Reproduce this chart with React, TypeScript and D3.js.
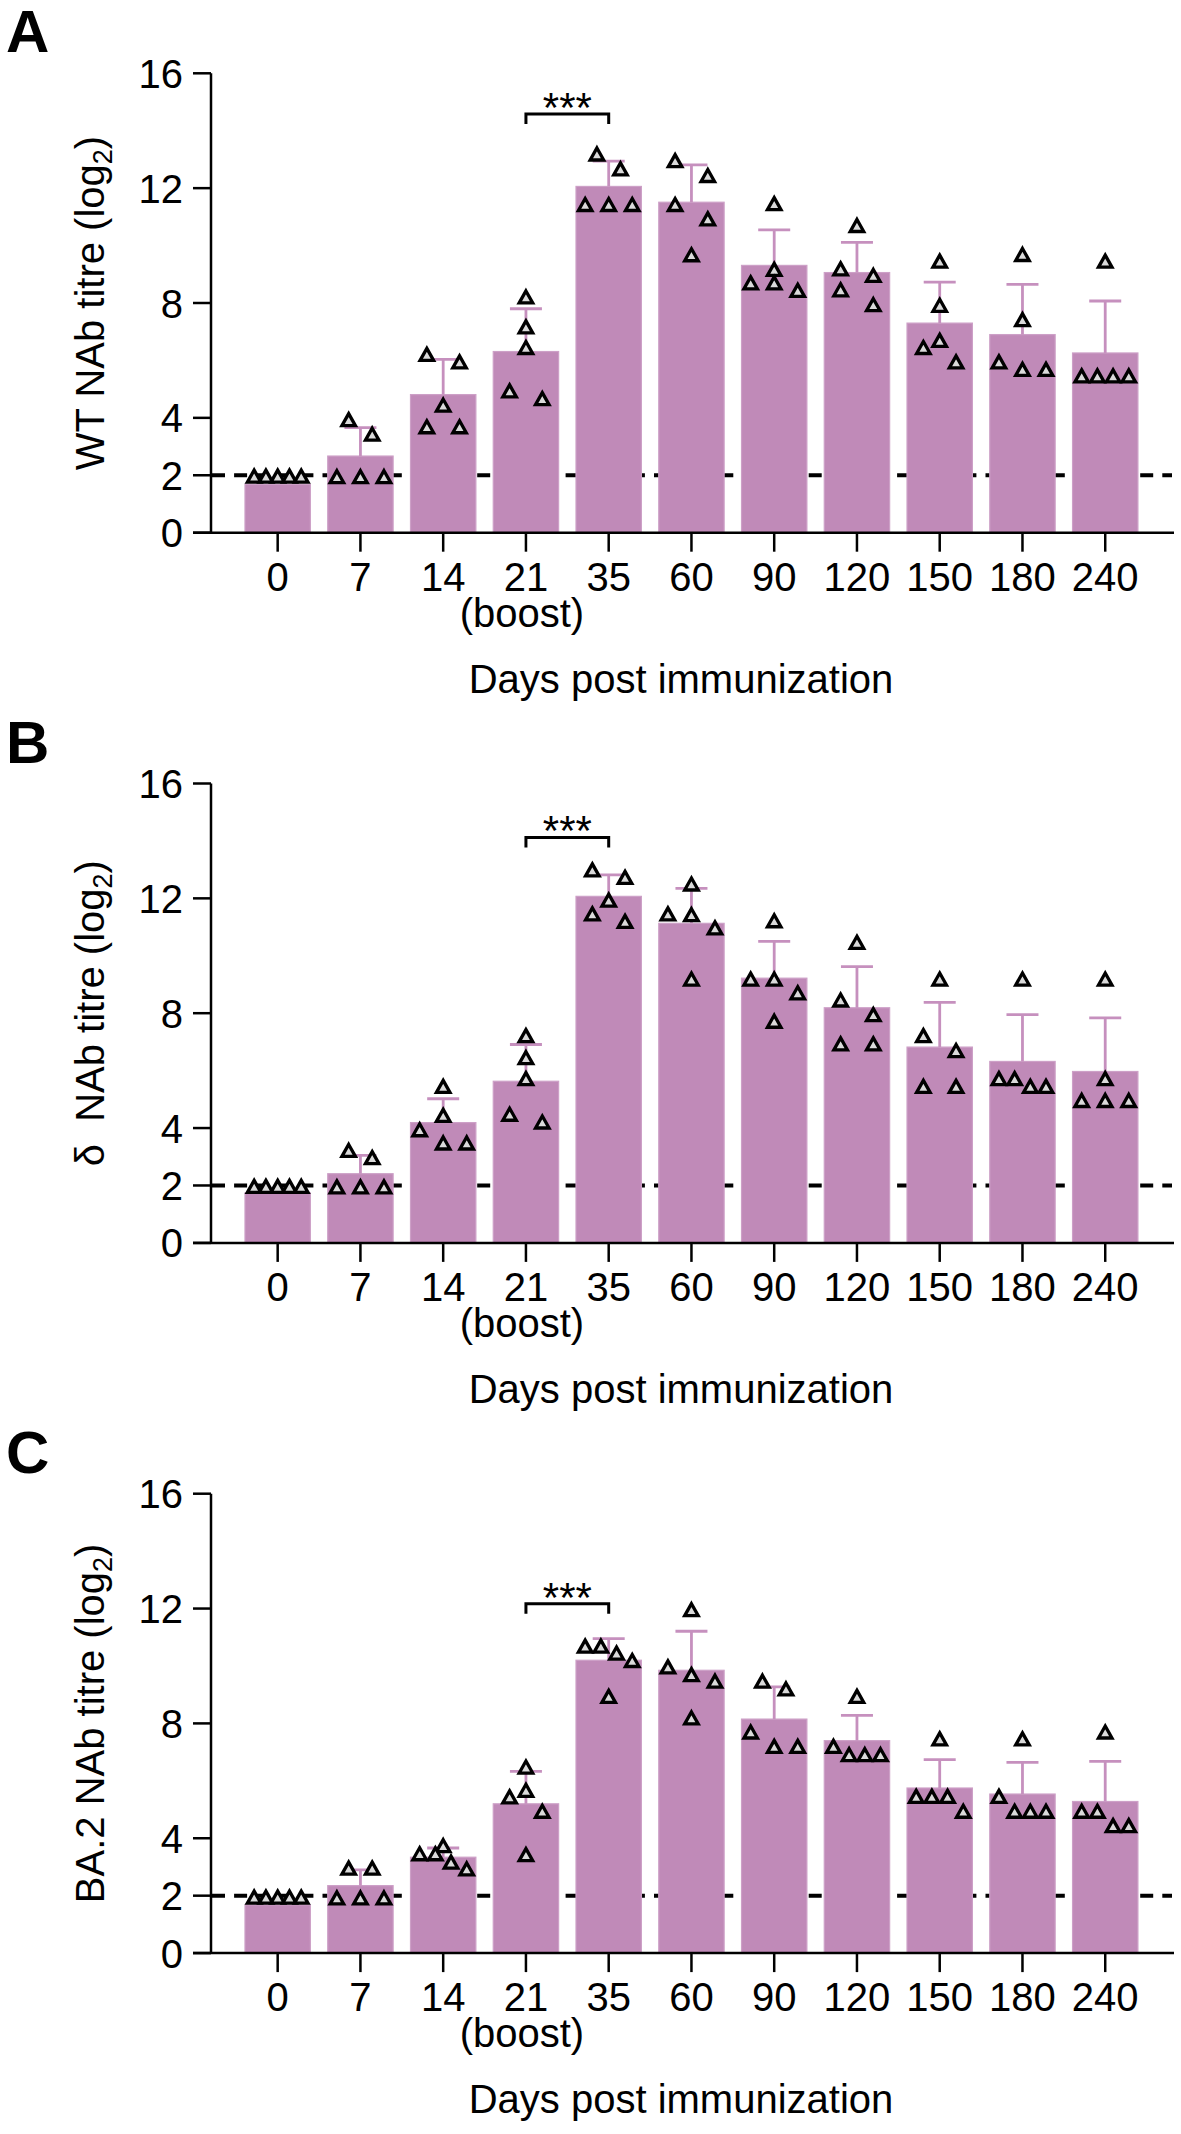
import React from "react";
import * as d3 from "d3";

// ---------- data ----------
const days = ["0", "7", "14", "21", "35", "60", "90", "120", "150", "180", "240"];
const boostDay = "21";
const yTickValues = [0, 2, 4, 8, 12, 16];
const detectionLimit = 2;
const panelLetters = ["A", "B", "C"];
const xAxisTitle = "Days post immunization";

// Panel A — WT
const wtPoints = [
  [1.97, 1.97, 1.97, 1.97, 1.97],
  [3.94, 3.43, 1.95, 1.95, 1.95],
  [6.21, 5.95, 4.44, 3.69, 3.69],
  [8.21, 7.17, 6.45, 4.94, 4.67],
  [13.19, 12.67, 11.43, 11.43, 11.43],
  [12.96, 12.44, 11.43, 10.93, 9.68],
  [11.46, 9.17, 8.7, 8.7, 8.44],
  [10.7, 9.19, 8.96, 8.46, 7.94],
  [9.46, 7.92, 6.7, 6.45, 5.95],
  [9.69, 7.42, 5.95, 5.69, 5.69],
  [9.46, 5.46, 5.46, 5.46, 5.46],
];
const wtMeans = [1.69, 2.67, 4.81, 6.31, 12.06, 11.51, 9.31, 9.06, 7.3, 6.9, 6.26];
const wtSD = [0, 0.99, 1.23, 1.49, 0.88, 1.3, 1.24, 1.05, 1.43, 1.75, 1.81];
const wtBracket = { from: "21", to: "35", value: 14.58, label: "***" };

// Panel B — delta
const deltaPoints = [
  [1.97, 1.97, 1.97, 1.97, 1.97],
  [3.22, 2.97, 1.95, 1.95, 1.95],
  [5.45, 4.44, 3.94, 3.48, 3.48],
  [7.22, 6.45, 5.72, 4.48, 4.21],
  [12.99, 12.73, 11.94, 11.46, 11.2],
  [12.5, 11.46, 11.43, 10.97, 9.19],
  [11.22, 9.19, 9.19, 8.71, 7.72],
  [10.47, 8.46, 7.95, 6.93, 6.93],
  [9.19, 7.22, 6.7, 5.45, 5.45],
  [9.19, 5.72, 5.72, 5.45, 5.45],
  [9.19, 5.72, 4.96, 4.96, 4.96],
];
const deltaMeans = [1.74, 2.41, 4.19, 5.63, 12.07, 11.13, 9.22, 8.19, 6.82, 6.32, 5.97];
const deltaSD = [0, 0.64, 0.83, 1.28, 0.75, 1.22, 1.28, 1.43, 1.56, 1.63, 1.87];
const deltaBracket = { from: "21", to: "35", value: 14.12, label: "***" };

// Panel C — BA.2
const ba2Points = [
  [1.95, 1.95, 1.95, 1.95, 1.95],
  [2.96, 2.96, 1.92, 1.92, 1.92],
  [3.74, 3.46, 3.46, 3.17, 2.93],
  [6.48, 5.67, 5.44, 4.94, 3.43],
  [10.69, 10.69, 10.45, 10.19, 8.94],
  [11.96, 9.97, 9.7, 9.47, 8.19],
  [9.47, 9.2, 7.7, 7.2, 7.2],
  [8.94, 7.2, 6.91, 6.91, 6.91],
  [7.46, 5.46, 5.46, 5.46, 4.94],
  [7.46, 5.46, 4.94, 4.94, 4.94],
  [7.7, 4.94, 4.94, 4.44, 4.44],
];
const ba2Means = [1.68, 2.35, 3.34, 5.2, 10.2, 9.85, 8.15, 7.4, 5.75, 5.54, 5.28];
const ba2SD = [0, 0.55, 0.32, 1.13, 0.75, 1.36, 1.12, 0.88, 0.99, 1.1, 1.4];
const ba2Bracket = { from: "21", to: "35", value: 12.17, label: "***" };

const panels = [
  { letter: panelLetters[0], prefix: "WT NAb titre (log", points: wtPoints, means: wtMeans, sd: wtSD, bracket: wtBracket },
  { letter: panelLetters[1], prefix: "\u03B4\u00A0 NAb titre (log", points: deltaPoints, means: deltaMeans, sd: deltaSD, bracket: deltaBracket },
  { letter: panelLetters[2], prefix: "BA.2 NAb titre (log", points: ba2Points, means: ba2Means, sd: ba2SD, bracket: ba2Bracket },
];

// ---------- style / layout ----------
const FONT = "'Liberation Sans', Arial, Helvetica, sans-serif";
const BAR_FILL = "#C08AB8";
const BAR_EDGE = "#CDA0C7";
const ERR_COLOR = "#C690BE";
const PT_FILL = "#DADADA";
const PANEL_STEP = 710.2;
const Y_TOP = 73.3;
const Y_BOTTOM = 532.7;
const AXIS_X = 211;
const AXIS_LEFT_END = 193;
const AXIS_RIGHT_END = 1174;

const x = d3
  .scaleBand<string>()
  .domain(days)
  .range([236.3, 1146.6])
  .paddingInner(0.21)
  .paddingOuter(0.105);
const bw = x.bandwidth();
const cx = (d: string) => (x(d) as number) + bw / 2;

function layoutOffsets(values: number[], y: (v: number) => number): number[] {
  const W = bw * 0.5;
  const maxSpan = bw * 0.72;
  const idx = values.map((v, i) => i).sort((a, b) => values[a] - values[b]);
  const rows: number[][] = [];
  idx.forEach((i) => {
    const cur = rows[rows.length - 1];
    if (cur && Math.abs(y(values[i]) - y(values[cur[0]])) < 18) cur.push(i);
    else rows.push([i]);
  });
  const maxLen = d3.max(rows, (r) => r.length) || 1;
  const spacing = maxLen > 1 ? Math.min(W, maxSpan / (maxLen - 1)) : W;
  const off = new Array(values.length).fill(0);
  rows.forEach((r) => {
    const sorted = [...r].sort((a, b) => values[b] - values[a]);
    sorted.forEach((i, k) => {
      off[i] = (k - (sorted.length - 1) / 2) * spacing;
    });
  });
  return off;
}

const TRI_W = 13.5;
const TRI_H = 12;
const triPath = `M0,${-TRI_H / 2}L${TRI_W / 2},${TRI_H / 2}L${-TRI_W / 2},${TRI_H / 2}Z`;

function Panel({ p, index }: { p: (typeof panels)[number]; index: number }) {
  const dy = index * PANEL_STEP;
  const y = d3.scaleLinear().domain([0, 16]).range([Y_BOTTOM + dy, Y_TOP + dy]);
  const y0 = y(0);
  const by = y(p.bracket.value);
  const bx1 = cx(p.bracket.from);
  const bx2 = cx(p.bracket.to);
  return (
    <g>
      <text x={6} y={Y_TOP + dy - 21} fontSize={60} fontWeight="bold" fontFamily={FONT}>
        {p.letter}
      </text>
      {/* detection limit */}
      <line
        x1={AXIS_X + 1}
        x2={AXIS_RIGHT_END - 2}
        y1={y(detectionLimit)}
        y2={y(detectionLimit)}
        stroke="#000"
        strokeWidth={4}
        strokeDasharray="13 9.1"
      />
      {/* bars */}
      {days.map((d, i) => (
        <rect
          key={"b" + d}
          x={x(d)}
          y={y(p.means[i])}
          width={bw}
          height={y0 - y(p.means[i])}
          fill={BAR_FILL}
          stroke={BAR_EDGE}
          strokeWidth={1.2}
        />
      ))}
      {/* error bars */}
      {days.map((d, i) =>
        p.sd[i] > 0 ? (
          <g key={"e" + d} stroke={ERR_COLOR} strokeWidth={2.8} fill="none">
            <line x1={cx(d)} x2={cx(d)} y1={y(p.means[i])} y2={y(p.means[i] + p.sd[i])} />
            <line x1={cx(d) - 16} x2={cx(d) + 16} y1={y(p.means[i] + p.sd[i])} y2={y(p.means[i] + p.sd[i])} />
          </g>
        ) : null
      )}
      {/* points */}
      {days.map((d, i) => {
        const offs = layoutOffsets(p.points[i], y);
        return (
          <g key={"p" + d}>
            {p.points[i].map((v, k) => (
              <path
                key={k}
                d={triPath}
                transform={`translate(${cx(d) + offs[k]},${y(v)})`}
                fill={PT_FILL}
                stroke="#000"
                strokeWidth={3.3}
                strokeLinejoin="miter"
              />
            ))}
          </g>
        );
      })}
      {/* axes */}
      <g stroke="#000" strokeWidth={2.5} fill="none">
        <line x1={AXIS_X} x2={AXIS_X} y1={y(16)} y2={y0} />
        <line x1={AXIS_LEFT_END} x2={AXIS_RIGHT_END} y1={y0} y2={y0} />
        {yTickValues.map((t) => (
          <line key={"yt" + t} x1={AXIS_LEFT_END} x2={AXIS_X} y1={y(t)} y2={y(t)} />
        ))}
        {days.map((d) => (
          <line key={"xt" + d} x1={cx(d)} x2={cx(d)} y1={y0} y2={y0 + 19} />
        ))}
      </g>
      <g fontFamily={FONT} fontSize={40} fill="#000">
        {yTickValues.map((t) => (
          <text key={"yl" + t} x={183} y={y(t) + 14.5} textAnchor="end">
            {t}
          </text>
        ))}
        {days.map((d) => (
          <text key={"xl" + d} x={cx(d)} y={y0 + 58} textAnchor="middle">
            {d}
          </text>
        ))}
        <text x={cx(boostDay) - 4} y={y0 + 94} textAnchor="middle">
          (boost)
        </text>
        <text x={681} y={y0 + 160} textAnchor="middle">
          {xAxisTitle}
        </text>
        <text transform={`translate(104,${(y(16) + y0) / 2}) rotate(-90)`} textAnchor="middle">
          {p.prefix}
          <tspan fontSize={27} dy={8}>
            2
          </tspan>
          <tspan dy={-8}>)</tspan>
        </text>
      </g>
      {/* significance bracket */}
      <path
        d={`M${bx1},${by + 10}V${by}H${bx2}V${by + 10}`}
        fill="none"
        stroke="#000"
        strokeWidth={3}
      />
      <text
        x={(bx1 + bx2) / 2}
        y={by + 8}
        textAnchor="middle"
        fontFamily={FONT}
        fontSize={42}
      >
        {p.bracket.label}
      </text>
    </g>
  );
}

export default function App() {
  return (
    <svg
      width={1181}
      height={2134}
      viewBox="0 0 1181 2134"
      style={{ position: "absolute", left: 0, top: 0, background: "#fff" }}
    >
      <rect width={1181} height={2134} fill="#fff" />
      {panels.map((p, i) => (
        <Panel key={p.letter} p={p} index={i} />
      ))}
    </svg>
  );
}
